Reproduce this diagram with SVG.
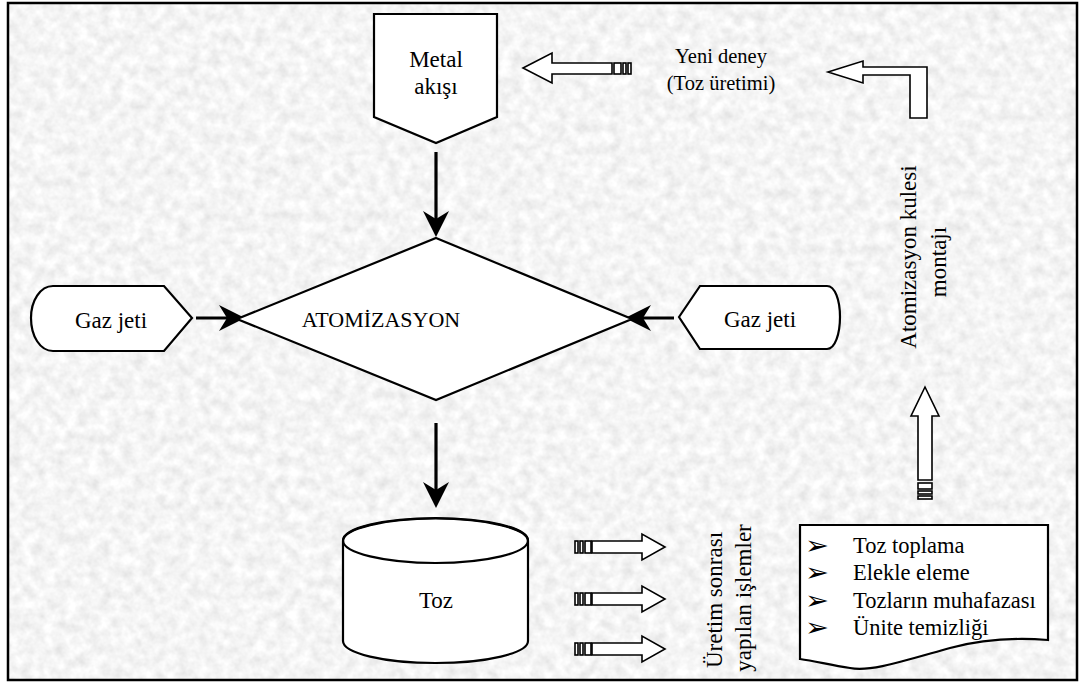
<svg xmlns="http://www.w3.org/2000/svg" width="1086" height="684" viewBox="0 0 1086 684">
  <defs>
    <!-- granite-like paper texture for the sheet -->
    <filter id="granite" filterUnits="userSpaceOnUse" x="8" y="3" width="1069" height="677">
      <feTurbulence type="fractalNoise" baseFrequency="0.09" numOctaves="3" seed="7" result="n"/>
      <feColorMatrix in="n" type="matrix" values="0.34 0 0 0 0.74  0.34 0 0 0 0.74  0.34 0 0 0 0.74  0 0 0 0 1"/>
    </filter>
    <!-- notched flow arrowhead -->
    <marker id="stealth" markerUnits="userSpaceOnUse" markerWidth="26" markerHeight="26" viewBox="0 0 26 26" refX="14" refY="13" orient="auto">
      <path d="M26,13 L0,0 L8,13 L0,26 Z" fill="#000"/>
    </marker>
    <style>
      .shape { fill: #fff; stroke: #000; stroke-width: 2.2; stroke-linejoin: miter; }
      .flow { stroke: #000; stroke-width: 3.2; fill: none; marker-end: url(#stealth); }
      .blk { fill: #fff; stroke: #000; stroke-width: 1.6; }
      .lbl { font-size: 23px; fill: #000; text-anchor: middle; }
      .small { font-size: 20.5px; }
      .list { font-size: 22.5px; fill: #000; }
      .bullet { font-size: 22px; fill: #000; }
    </style>
  </defs>

  <!-- sheet -->
  <rect x="0" y="0" width="1086" height="684" fill="#fff"/>
  <rect x="8" y="3" width="1069" height="677" fill="#e6e6e6" filter="url(#granite)"/>
  <rect x="8" y="3" width="1069" height="677" fill="none" stroke="#000" stroke-width="2.5"/>

  <!-- connectors -->
  <g id="connectors">
    <line class="flow" x1="436" y1="152" x2="436" y2="225"/>
    <line class="flow" x1="436" y1="423" x2="436" y2="496"/>
    <line class="flow" x1="196" y1="318" x2="233" y2="318"/>
    <line class="flow" x1="674" y1="318" x2="637" y2="318"/>
  </g>

  <!-- block arrows -->
  <g id="block-arrows">
    <!-- striped arrow toward Metal akışı -->
    <g id="arrow-new-run">
      <path class="blk" d="M523,68 L552,53 L552,63 L612,63 L612,74 L552,74 L552,83 Z"/>
      <rect class="blk" x="614" y="63" width="7" height="11"/>
      <rect class="blk" x="623" y="63" width="3" height="11"/>
      <rect class="blk" x="628" y="63" width="3" height="11"/>
    </g>
    <!-- bent arrow -->
    <path id="arrow-bent" class="blk" d="M828,72 L863,61 L863,67 L927,67 L927,118 L910,118 L910,75 L863,75 L863,83 Z"/>
    <!-- upward striped arrow -->
    <g id="arrow-up">
      <path class="blk" d="M925,387 L939,416 L932,416 L932,480 L918,480 L918,416 L911,416 Z"/>
      <rect class="blk" x="918" y="483" width="14" height="6"/>
      <rect class="blk" x="918" y="491" width="14" height="3"/>
      <rect class="blk" x="918" y="496" width="14" height="3"/>
    </g>
    <!-- post-production striped arrows -->
    <g id="arrow-post-1" transform="translate(0,547)">
      <rect class="blk" x="575" y="-6" width="3" height="12"/>
      <rect class="blk" x="580" y="-6" width="3" height="12"/>
      <rect class="blk" x="585" y="-6" width="6" height="12"/>
      <path class="blk" d="M592,-6 L642,-6 L642,-13 L665,0 L642,13 L642,6 L592,6 Z"/>
    </g>
    <g id="arrow-post-2" transform="translate(0,599)">
      <rect class="blk" x="575" y="-6" width="3" height="12"/>
      <rect class="blk" x="580" y="-6" width="3" height="12"/>
      <rect class="blk" x="585" y="-6" width="6" height="12"/>
      <path class="blk" d="M592,-6 L642,-6 L642,-13 L665,0 L642,13 L642,6 L592,6 Z"/>
    </g>
    <g id="arrow-post-3" transform="translate(0,649)">
      <rect class="blk" x="575" y="-6" width="3" height="12"/>
      <rect class="blk" x="580" y="-6" width="3" height="12"/>
      <rect class="blk" x="585" y="-6" width="6" height="12"/>
      <path class="blk" d="M592,-6 L642,-6 L642,-13 L665,0 L642,13 L642,6 L592,6 Z"/>
    </g>
  </g>

  <!-- nodes -->
  <g font-family="Liberation Serif, Times New Roman, DejaVu Serif, serif">
    <g id="metal-flow">
      <path class="shape" d="M374,14 L497,14 L497,117 L436,143 L374,117 Z"/>
      <text class="lbl" x="436" y="67">Metal</text>
      <text class="lbl" x="436" y="94">akışı</text>
    </g>

    <g id="atomization">
      <path class="shape" d="M436,238 L632,319 L436,400 L237,319 Z"/>
      <text class="lbl" x="381" y="327" style="font-size:22px">ATOMİZASYON</text>
    </g>

    <g id="gas-jet-left">
      <path class="shape" d="M53,286 L164,286 L192,318 L164,351 L53,351 C40,351 31,336 31,318 C31,301 40,286 53,286 Z"/>
      <text class="lbl" x="111" y="328">Gaz jeti</text>
    </g>

    <g id="gas-jet-right">
      <path class="shape" d="M679,317 L700,286 L827,286 C835,286 840,300 840,317 C840,334 835,349 827,349 L700,349 Z"/>
      <text class="lbl" x="760" y="327">Gaz jeti</text>
    </g>

    <g id="powder">
      <path class="shape" d="M343,541 L343,641 A92.5,22 0 0 0 528,641 L528,541 A92.5,22.5 0 0 0 343,541 Z"/>
      <ellipse cx="435.5" cy="540.5" rx="92.5" ry="22.5" fill="none" stroke="#000" stroke-width="2.2"/>
      <text class="lbl" x="436" y="608">Toz</text>
    </g>

    <g id="post-steps">
      <path class="shape" d="M800,525 L1048,525 L1048,640 C1010,637 980,640 950,648 C900,662 870,672 850,668 C830,665 815,661 800,659 Z"/>
      <!-- list bullets, widened to the arrowhead proportions -->
      <g font-family="DejaVu Sans, sans-serif">
        <text class="bullet" transform="translate(805,554) scale(1.3,1.15)">➢</text>
        <text class="bullet" transform="translate(805,581) scale(1.3,1.15)">➢</text>
        <text class="bullet" transform="translate(805,609) scale(1.3,1.15)">➢</text>
        <text class="bullet" transform="translate(805,636) scale(1.3,1.15)">➢</text>
      </g>
      <text class="list" x="853" y="553">Toz toplama</text>
      <text class="list" x="853" y="580">Elekle eleme</text>
      <text class="list" x="853" y="608">Tozların muhafazası</text>
      <text class="list" x="853" y="635">Ünite temizliği</text>
    </g>

    <!-- free labels -->
    <g id="labels">
      <text class="lbl small" x="721" y="63">Yeni deney</text>
      <text class="lbl small" x="721" y="90">(Toz üretimi)</text>
      <text class="lbl" transform="translate(916,257) rotate(-90)">Atomizasyon kulesi</text>
      <text class="lbl" transform="translate(946,262) rotate(-90)">montajı</text>
      <text class="lbl" transform="translate(722,600) rotate(-90)">Üretim sonrası</text>
      <text class="lbl" transform="translate(751,598) rotate(-90)">yapılan işlemler</text>
    </g>
  </g>
</svg>
